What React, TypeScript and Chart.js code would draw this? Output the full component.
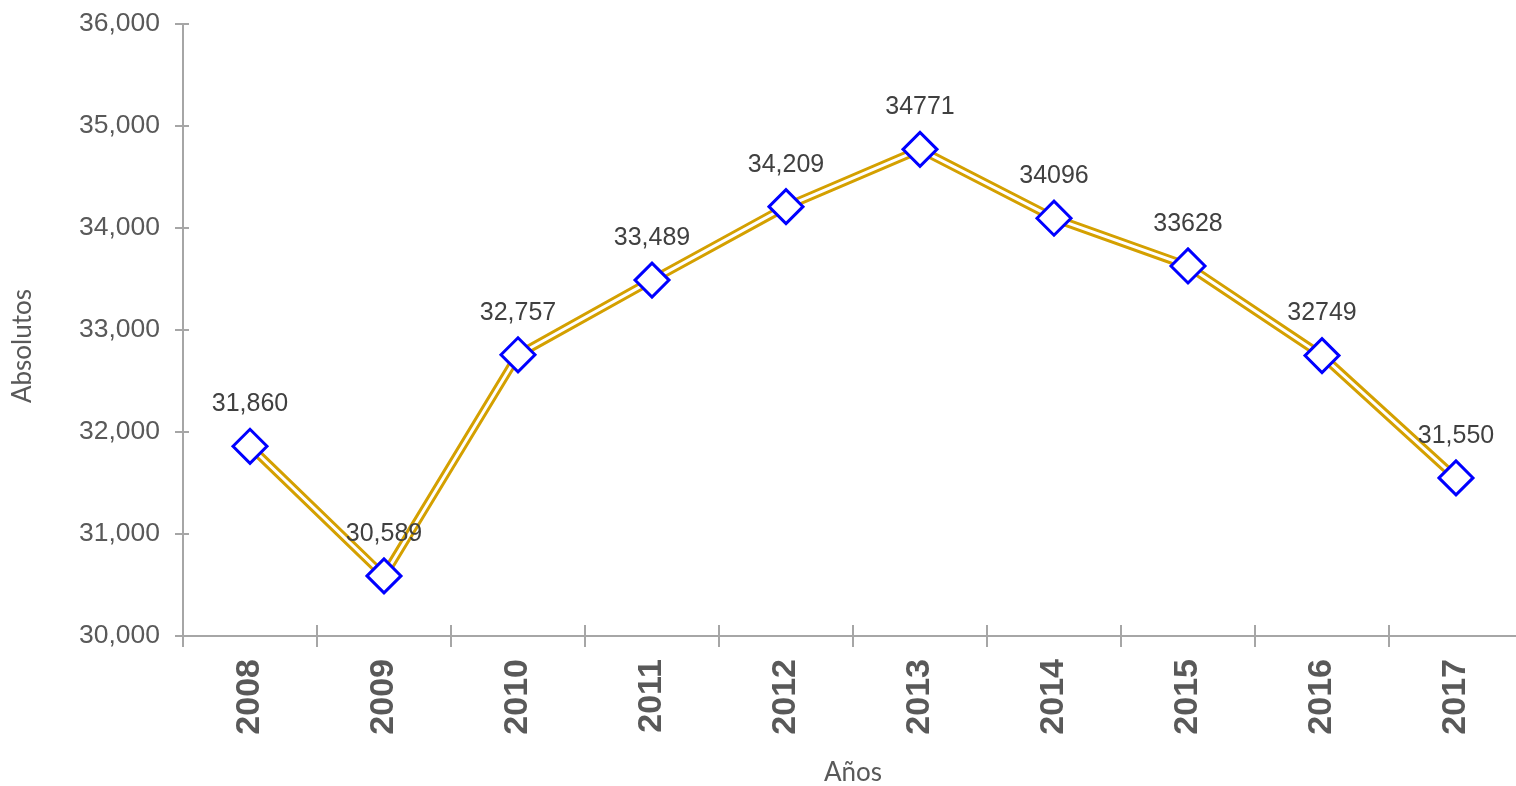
import React, { useEffect, useRef } from "react";
import { Chart, registerables } from "chart.js";

Chart.register(...registerables);

const years = ["2008", "2009", "2010", "2011", "2012", "2013", "2014", "2015", "2016", "2017"];
const values = [31860, 30589, 32757, 33489, 34209, 34771, 34096, 33628, 32749, 31550];
const valueLabels = ["31,860", "30,589", "32,757", "33,489", "34,209", "34771", "34096", "33628", "32749", "31,550"];
const yMin = 30000;
const yMax = 36000;
const yStep = 1000;
const yTitle = "Absolutos";
const xTitle = "Años";

const AXIS_COLOR = "#a6a6a6";
const TEXT_COLOR = "#595959";
const LINE_GOLD = "#d4a000";
const PLOT_RIGHT = 1523;

const axesPlugin = {
  id: "customAxes",
  beforeDatasetsDraw(chart: any) {
    const { ctx, chartArea, scales } = chart;
    const x = scales.x;
    const y = scales.y;
    ctx.save();
    ctx.strokeStyle = AXIS_COLOR;
    ctx.lineWidth = 2;
    ctx.beginPath();
    ctx.moveTo(chartArea.left, y.getPixelForValue(yMax));
    ctx.lineTo(chartArea.left, y.getPixelForValue(yMin));
    ctx.stroke();
    for (let v = yMin; v <= yMax; v += yStep) {
      const py = Math.round(y.getPixelForValue(v));
      ctx.beginPath();
      ctx.moveTo(chartArea.left - 8, py);
      ctx.lineTo(chartArea.left + 6, py);
      ctx.stroke();
    }
    const baseY = Math.round(y.getPixelForValue(yMin));
    ctx.beginPath();
    ctx.moveTo(chartArea.left, baseY);
    ctx.lineTo(chart.width, baseY);
    ctx.stroke();
    const n = years.length;
    const step = x.getPixelForValue(1) - x.getPixelForValue(0);
    for (let i = 0; i <= n; i++) {
      const px = Math.round(x.getPixelForValue(0) - step / 2 + i * step);
      ctx.beginPath();
      ctx.moveTo(px, baseY - 11);
      ctx.lineTo(px, baseY + 11);
      ctx.stroke();
    }
    ctx.fillStyle = TEXT_COLOR;
    ctx.font = "26px Lato, 'Open Sans', sans-serif";
    ctx.textAlign = "center";
    ctx.textBaseline = "middle";
    ctx.fillText(xTitle, (chartArea.left + chartArea.right) / 2, 773);
    ctx.translate(23, 346);
    ctx.rotate(-Math.PI / 2);
    ctx.fillText(yTitle, 0, 0);
    ctx.restore();
  },
};

const labelsPlugin = {
  id: "valueLabels",
  afterDatasetsDraw(chart: any) {
    const { ctx, scales } = chart;
    ctx.save();
    ctx.fillStyle = "#404040";
    ctx.font = "25px 'Liberation Sans', Arial, sans-serif";
    ctx.textAlign = "center";
    ctx.textBaseline = "middle";
    values.forEach((v, i) => {
      const px = scales.x.getPixelForValue(i);
      const py = scales.y.getPixelForValue(v);
      ctx.fillText(valueLabels[i], px, py - 42);
    });
    ctx.restore();
  },
};

function zeroPad(scale: any) {
  scale.paddingTop = 0;
  scale.paddingBottom = 0;
  scale.paddingLeft = 0;
  scale.paddingRight = 0;
}

export default function App() {
  const ref = useRef<HTMLCanvasElement>(null);

  useEffect(() => {
    if (!ref.current) return;
    const chart = new Chart(ref.current, {
      type: "line",
      data: {
        labels: years,
        datasets: [
          {
            data: values,
            borderColor: LINE_GOLD,
            borderWidth: 9,
            pointRadius: 0,
            fill: false,
            tension: 0,
            order: 3,
          },
          {
            data: values,
            borderColor: "#ffffff",
            borderWidth: 3,
            pointRadius: 0,
            fill: false,
            tension: 0,
            order: 2,
          },
          {
            data: values,
            showLine: false,
            pointStyle: "rectRot",
            pointRadius: 17,
            pointBorderWidth: 3,
            pointBorderColor: "#0000ff",
            pointBackgroundColor: "#ffffff",
            order: 1,
          },
        ],
      },
      options: {
        animation: false,
        responsive: false,
        devicePixelRatio: 1,
        layout: { padding: { top: 24, right: 0, bottom: 0, left: 0 } },
        plugins: {
          legend: { display: false },
          tooltip: { enabled: false },
        },
        scales: {
          x: {
            offset: true,
            grid: { display: false },
            border: { display: false },
            ticks: {
              minRotation: 90,
              maxRotation: 90,
              padding: 15,
              color: TEXT_COLOR,
              font: { family: "'Liberation Sans', Arial, sans-serif", size: 34, weight: "bold" },
            },
            afterFit(scale: any) {
              scale.height = 150;
              zeroPad(scale);
            },
          },
          y: {
            min: yMin,
            max: yMax,
            grid: { display: false },
            border: { display: false },
            ticks: {
              stepSize: yStep,
              padding: 15,
              color: TEXT_COLOR,
              font: { family: "'Liberation Sans', Arial, sans-serif", size: 26.5 },
              callback: (v: any) => Number(v).toLocaleString("en-US"),
            },
            afterFit(scale: any) {
              scale.width = 183;
              zeroPad(scale);
            },
          },
        },
      },
      plugins: [axesPlugin, labelsPlugin],
    });
    return () => chart.destroy();
  }, []);

  return (
    <div
      style={{
        position: "fixed",
        left: 0,
        top: 0,
        width: 1516,
        height: 786,
        overflow: "hidden",
        background: "#ffffff",
      }}
    >
      <canvas ref={ref} width={PLOT_RIGHT + 20} height={786} style={{ display: "block" }} />
    </div>
  );
}
